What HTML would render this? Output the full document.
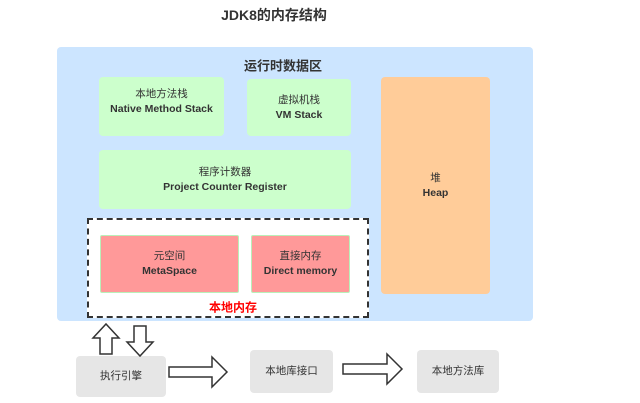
<!DOCTYPE html>
<html><head><meta charset="utf-8"><style>
body{margin:0;width:640px;height:403px;background:#fff;position:relative;overflow:hidden;font-family:"Liberation Sans","Noto Sans CJK SC",sans-serif;color:#333}
.b{position:absolute;border-radius:4px;display:flex;flex-direction:column;align-items:center;justify-content:center;text-align:center;font-size:10.5px;line-height:15px}
.t{position:absolute;font-weight:bold;white-space:nowrap;transform:translate(-50%,-50%)}
.g{background:#ccffcc}
.bold{font-weight:bold}
</style></head><body>
<div class="t" style="left:274px;top:15px;font-size:14px">JDK8的内存结构</div>
<div class="b" style="left:57px;top:47px;width:476px;height:274px;background:#cce5ff"></div>
<div class="t" style="left:283px;top:65px;font-size:13px">运行时数据区</div>
<div class="b g" style="left:99px;top:77px;width:125px;height:59px;justify-content:flex-start;padding-top:10px;box-sizing:border-box"><span>本地方法栈</span><span class="bold">Native Method Stack</span></div>
<div class="b g" style="left:247px;top:79px;width:104px;height:57px"><span>虚拟机栈</span><span class="bold">VM Stack</span></div>
<div class="b g" style="left:99px;top:150px;width:252px;height:59px"><span>程序计数器</span><span class="bold">Project Counter Register</span></div>
<div class="b" style="left:381px;top:77px;width:109px;height:217px;background:#ffcc99"><span>堆</span><span class="bold">Heap</span></div>
<div style="position:absolute;left:87px;top:218px;width:278px;height:96px;border:2px dashed #333;background:#fff"></div>
<div class="b" style="left:100px;top:235px;width:137px;height:56px;background:#ff9999;border:1px solid #b9f0b9;border-radius:2px"><span>元空间</span><span class="bold">MetaSpace</span></div>
<div class="b" style="left:251px;top:235px;width:97px;height:56px;background:#ff9999;border:1px solid #b9f0b9;border-radius:2px"><span>直接内存</span><span class="bold">Direct memory</span></div>
<div class="t" style="left:233px;top:307px;font-size:12px;color:#ff0000">本地内存</div>
<div class="b" style="left:76px;top:356px;width:90px;height:41px;background:#e6e6e6">执行引擎</div>
<div class="b" style="left:250px;top:350px;width:83px;height:43px;background:#e6e6e6">本地库接口</div>
<div class="b" style="left:417px;top:350px;width:82px;height:43px;background:#e6e6e6">本地方法库</div>
<svg style="position:absolute;left:0;top:0" width="640" height="403">
<g fill="#fff" stroke="#333" stroke-width="1.5">
<polygon points="100,354 100,338 93,338 106,324 119,338 112,338 112,354"/>
<polygon points="134,326 146,326 146,342 153,342 140,356 127,342 134,342"/>
<polygon points="169,367 212,367 212,357 227,372 212,387 212,377 169,377"/>
<polygon points="343,364 387,364 387,354 402,369 387,384 387,374 343,374"/>
</g></svg>
</body></html>
